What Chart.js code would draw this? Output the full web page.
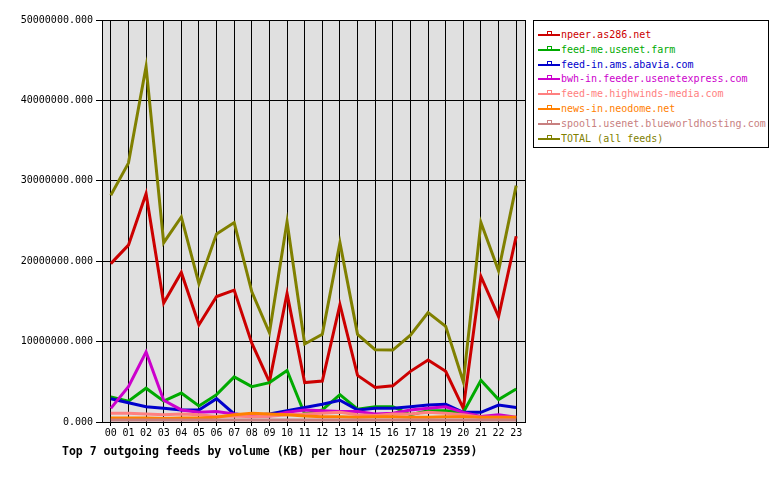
<!DOCTYPE html>
<html>
<head>
<meta charset="utf-8">
<script src="https://cdn.jsdelivr.net/npm/chart.js@4.4.1/dist/chart.umd.min.js"></script>
<style>
html, body { margin: 0; padding: 0; background: #fff; }
#wrap { position: relative; width: 780px; height: 480px; }
#legend {
  position: absolute; left: 533px; top: 20px; width: 236px; height: 128px;
  border: 1px solid #000; box-sizing: border-box; padding-top: 7px;
  font: 10px "DejaVu Sans Mono", monospace; background: #fff;
}
.row { height: 14.8px; line-height: 14.8px; white-space: nowrap; }
.sw { display: inline-block; position: relative; width: 22px; height: 2px; margin-left: 4px; margin-right: 1px; vertical-align: middle; }
.sw i { position: absolute; left: 9px; top: -3px; width: 3px; height: 2px; border: 1px solid; border-bottom: none; }
</style>
</head>
<body>
<div id="wrap">
  <canvas id="chart" width="780" height="480"></canvas>
  <div id="legend"></div>
</div>
<script>
const hours = ['00','01','02','03','04','05','06','07','08','09','10','11',
               '12','13','14','15','16','17','18','19','20','21','22','23'];

const feedNames = [
  'npeer.as286.net',
  'feed-me.usenet.farm',
  'feed-in.ams.abavia.com',
  'bwh-in.feeder.usenetexpress.com',
  'feed-me.highwinds-media.com',
  'news-in.neodome.net',
  'spool1.usenet.blueworldhosting.com',
  'TOTAL (all feeds)'
];
const feedColors = ['#cc0000', '#00aa00', '#0000cc', '#cc00cc', '#ff8080', '#ff8000', '#c88080', '#808000'];

// KB per hour
const npeer     = [19700000, 22000000, 28400000, 14800000, 18600000, 12100000, 15600000, 16400000, 9800000, 5000000, 16000000, 4900000,
                   5100000, 14600000, 5800000, 4300000, 4500000, 6300000, 7700000, 6300000, 1700000, 18100000, 13100000, 23100000];
const usenetFarm = [3100000, 2600000, 4200000, 2600000, 3600000, 2000000, 3400000, 5600000, 4400000, 4900000, 6400000, 1000000,
                   1500000, 3400000, 1600000, 1900000, 1900000, 900000, 1400000, 1400000, 1200000, 5200000, 2800000, 4100000];
const abavia    = [2900000, 2400000, 1900000, 1700000, 1500000, 1500000, 2900000, 1000000, 800000, 1000000, 1400000, 1800000,
                   2200000, 2700000, 1500000, 1700000, 1700000, 1900000, 2100000, 2200000, 1200000, 1200000, 2100000, 1800000];
const usenetExpress = [1700000, 4400000, 8700000, 2700000, 1500000, 1200000, 1300000, 1000000, 750000, 750000, 1200000, 1500000,
                   1400000, 1300000, 1300000, 1000000, 1100000, 1500000, 1700000, 1900000, 1200000, 700000, 900000, 600000];
const highwinds = [1100000, 1100000, 1000000, 900000, 1000000, 900000, 700000, 750000, 650000, 700000, 900000, 1000000,
                   1100000, 1200000, 900000, 800000, 1000000, 1000000, 1200000, 1100000, 900000, 600000, 600000, 600000];
const neodome   = [500000, 500000, 500000, 450000, 500000, 500000, 600000, 900000, 1100000, 1000000, 900000, 750000,
                   650000, 650000, 600000, 650000, 650000, 600000, 600000, 650000, 650000, 600000, 600000, 600000];
const blueworld = [250000, 250000, 250000, 250000, 250000, 250000, 250000, 250000, 250000, 250000, 250000, 250000,
                   250000, 250000, 250000, 250000, 250000, 250000, 250000, 250000, 250000, 250000, 250000, 250000];
const total     = [28200000, 32200000, 44200000, 22300000, 25500000, 17200000, 23400000, 24800000, 16200000, 11100000, 24900000, 9700000,
                   10900000, 22300000, 10900000, 9000000, 8950000, 10800000, 13600000, 11900000, 5000000, 24800000, 18800000, 29400000];

const feedValues = [npeer, usenetFarm, abavia, usenetExpress, highwinds, neodome, blueworld, total];

const yTicks = [0, 10000000, 20000000, 30000000, 40000000, 50000000];
const titleText = 'Top 7 outgoing feeds by volume (KB) per hour (20250719 2359)';

const monoFont = 'DejaVu Sans Mono';

// grey plot area + right border
const plotBg = {
  id: 'plotBg',
  beforeDraw(chart) {
    const a = chart.chartArea, c = chart.ctx;
    c.save();
    c.fillStyle = '#e0e0e0';
    c.fillRect(a.left, a.top, a.right - a.left, a.bottom - a.top);
    c.restore();
  },
  beforeDatasetsDraw(chart) {
    const a = chart.chartArea, c = chart.ctx;
    c.save();
    c.strokeStyle = '#000';
    c.lineWidth = 1;
    c.beginPath();
    c.moveTo(a.right + 0.5, a.top);
    c.lineTo(a.right + 0.5, a.bottom);
    c.stroke();
    c.restore();
  }
};

const bottomTitle = {
  id: 'bottomTitle',
  afterDraw(chart) {
    const c = chart.ctx;
    c.save();
    c.font = 'bold 11.5px "' + monoFont + '"';
    c.fillStyle = '#000';
    c.textBaseline = 'middle';
    c.fillText(titleText, 62, 452);
    c.restore();
  }
};

const datasets = feedNames.map((name, i) => ({
  label: name,
  data: feedValues[i],
  borderColor: feedColors[i],
  backgroundColor: feedColors[i],
  borderWidth: 3,
  pointRadius: 0,
  tension: 0,
  fill: false,
  order: feedNames.length - 1 - i
}));

const chart = new Chart(document.getElementById('chart'), {
  type: 'line',
  data: { labels: hours, datasets: datasets },
  options: {
    responsive: false,
    animation: false,
    layout: { padding: { left: 0, top: 20, right: 255, bottom: 0 } },
    plugins: {
      legend: { display: false },
      tooltip: { enabled: false },
      title: { display: false }
    },
    scales: {
      x: {
        offset: true,
        grid: { offset: false, color: '#000', lineWidth: 1, tickLength: 4 },
        border: { color: '#000', width: 1 },
        ticks: { color: '#000', font: { family: monoFont, size: 10 }, padding: 1, maxRotation: 0, autoSkip: false },
        afterFit(s) { s.height = 58; }
      },
      y: {
        min: 0,
        max: 50000000,
        grid: { color: '#000', lineWidth: 1, tickLength: 6 },
        border: { color: '#000', width: 1 },
        afterBuildTicks(s) { s.ticks = yTicks.map(v => ({ value: v })); },
        ticks: {
          color: '#000',
          font: { family: monoFont, size: 10 },
          padding: 3,
          callback: v => Number(v).toFixed(3)
        },
        afterFit(s) { s.width = 102; }
      }
    }
  },
  plugins: [plotBg, bottomTitle]
});

// legend box
const legend = document.getElementById('legend');
chart.data.datasets.forEach(ds => {
  const row = document.createElement('div');
  row.className = 'row';
  row.style.color = ds.borderColor;
  const sw = document.createElement('span');
  sw.className = 'sw';
  sw.style.background = ds.borderColor;
  const mark = document.createElement('i');
  mark.style.borderColor = ds.borderColor;
  sw.appendChild(mark);
  row.appendChild(sw);
  row.appendChild(document.createTextNode(ds.label));
  legend.appendChild(row);
});
</script>
</body>
</html>
